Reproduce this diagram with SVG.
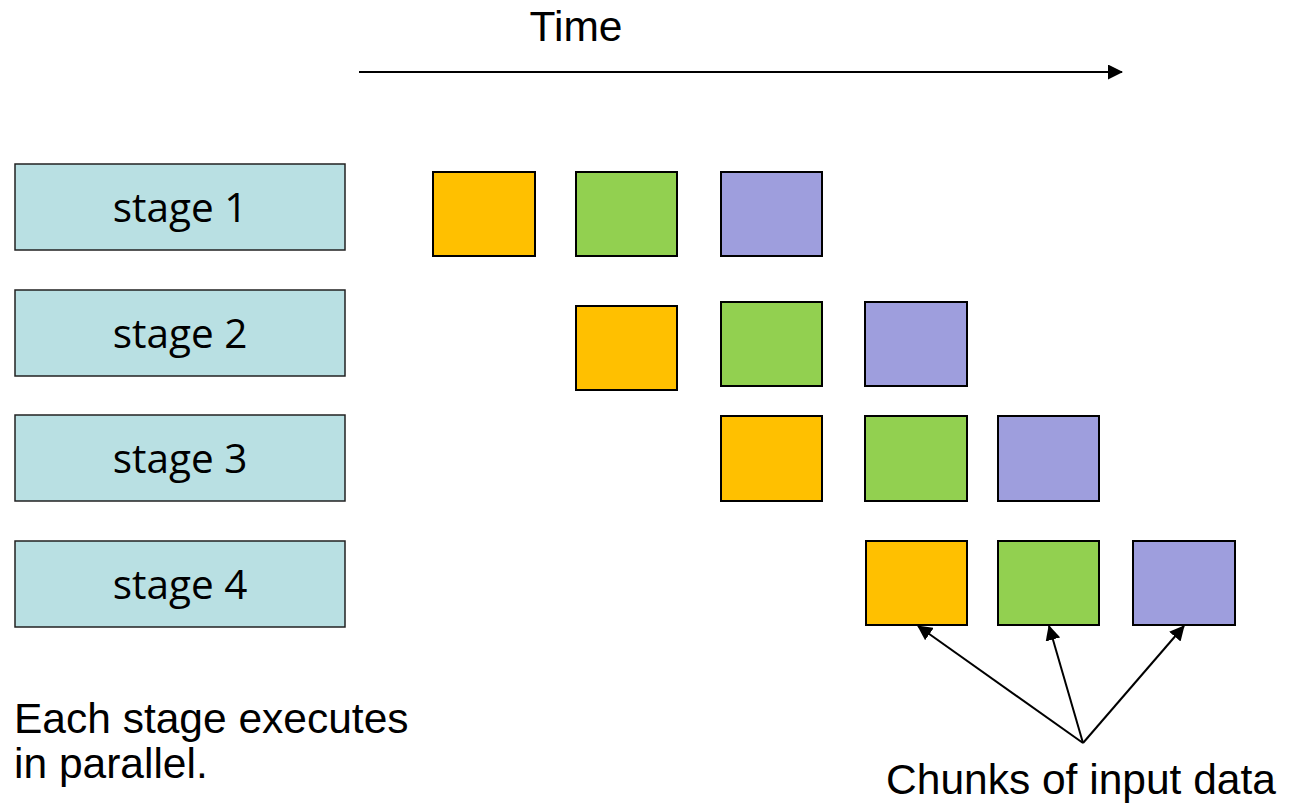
<svg xmlns="http://www.w3.org/2000/svg" width="1306" height="803" viewBox="0 0 1306 803">
<defs>
<marker id="ah2" markerWidth="15" markerHeight="15" refX="14" refY="7.5" orient="auto" markerUnits="userSpaceOnUse" viewBox="0 0 15 15">
<path d="M0,0 L15,7.5 L0,15 z" fill="#000"/>
</marker>
</defs>
<style>
.stage{fill:#b9e0e3;stroke:#222;stroke-width:1.5}
.st{font-family:"Open Sans","Noto Sans",sans-serif;font-size:40.5px;fill:#000;text-anchor:middle}
.lbl{font-family:"Liberation Sans",Arial,sans-serif;font-size:42.5px;fill:#000}
.o{fill:#ffc000;stroke:#000;stroke-width:2}
.g{fill:#92d050;stroke:#000;stroke-width:2}
.p{fill:#9e9edd;stroke:#000;stroke-width:2}
.con{stroke:#000;stroke-width:2;fill:none}
</style>
<rect width="1306" height="803" fill="#fff"/>
<g id="stage1"><rect class="stage" x="15" y="164" width="330" height="86"/><text class="st" x="180" y="222">stage 1</text></g>
<g id="stage2"><rect class="stage" x="15" y="290" width="330" height="86"/><text class="st" x="180" y="348">stage 2</text></g>
<g id="stage3"><rect class="stage" x="15" y="415" width="330" height="86"/><text class="st" x="180" y="473">stage 3</text></g>
<g id="stage4"><rect class="stage" x="15" y="541" width="330" height="86"/><text class="st" x="180" y="599">stage 4</text></g>
<g id="chunks">
<rect class="o" x="433" y="172" width="102" height="84"/>
<rect class="g" x="576" y="172" width="101" height="84"/>
<rect class="p" x="721" y="172" width="101" height="84"/>
<rect class="o" x="576" y="306" width="101" height="84"/>
<rect class="g" x="721" y="302" width="101" height="84"/>
<rect class="p" x="865" y="302" width="102" height="84"/>
<rect class="o" x="721" y="416" width="101" height="85"/>
<rect class="g" x="865" y="416" width="102" height="85"/>
<rect class="p" x="998" y="416" width="101" height="85"/>
<rect class="o" x="866" y="541" width="101" height="84"/>
<rect class="g" x="998" y="541" width="101" height="84"/>
<rect class="p" x="1133" y="541" width="102" height="84"/>
</g>
<g id="connectors">
<line class="con" x1="359" y1="72" x2="1122" y2="72" marker-end="url(#ah2)"/>
<line class="con" x1="1083" y1="743" x2="918" y2="626" marker-end="url(#ah2)"/>
<line class="con" x1="1083" y1="743" x2="1049" y2="626" marker-end="url(#ah2)"/>
<line class="con" x1="1083" y1="743" x2="1184" y2="626" marker-end="url(#ah2)"/>
</g>
<g id="labels">
<text class="lbl" x="576" y="41" text-anchor="middle">Time</text>
<text class="lbl" x="14" y="733">Each stage executes</text>
<text class="lbl" x="14" y="778">in parallel.</text>
<text class="lbl" x="1081" y="794" text-anchor="middle">Chunks of input data</text>
</g>
</svg>
